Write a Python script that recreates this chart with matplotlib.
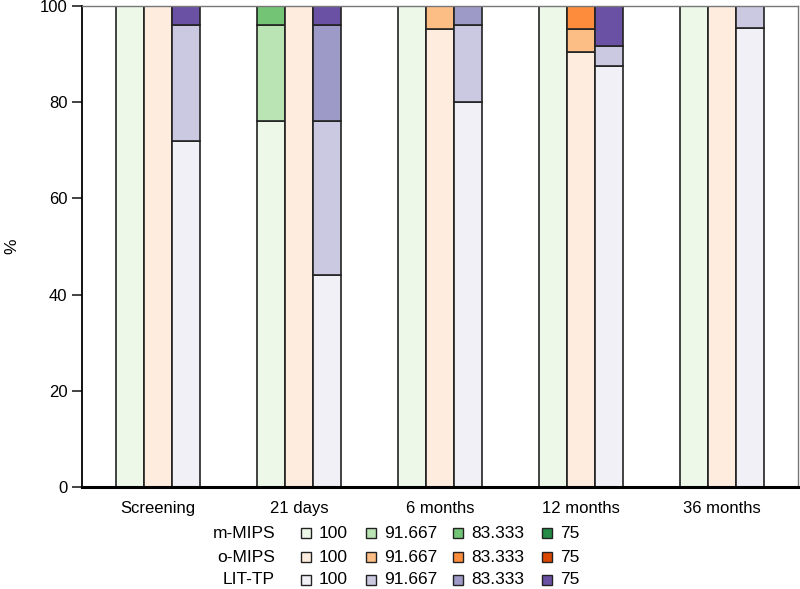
import numpy as np
import matplotlib.pyplot as plt
from matplotlib.patches import Rectangle

plt.rcParams["font.family"] = ["Liberation Sans", "DejaVu Sans"]

# === Datos ===
timepoints = ["Screening", "21 days", "6 months", "12 months", "36 months"]
levels = ["100", "91.667", "83.333", "75"]
measures = ["m-MIPS", "o-MIPS", "LIT-TP"]

# porcentaje de cada nivel (100, 91.667, 83.333, 75) por momento
m_mips = [
    [100, 0, 0, 0],
    [76, 20, 4, 0],
    [100, 0, 0, 0],
    [100, 0, 0, 0],
    [100, 0, 0, 0],
]
o_mips = [
    [100, 0, 0, 0],
    [100, 0, 0, 0],
    [95.24, 4.76, 0, 0],
    [90.48, 4.76, 4.76, 0],
    [100, 0, 0, 0],
]
lit_tp = [
    [72, 24, 0, 4],
    [44, 32, 20, 4],
    [80, 16, 4, 0],
    [87.5, 4.17, 0, 8.33],
    [95.45, 4.55, 0, 0],
]

colors = {
    "m-MIPS": ["#edf8e9", "#bae4b3", "#74c476", "#238b45"],
    "o-MIPS": ["#feedde", "#fdbe85", "#fd8d3c", "#d94701"],
    "LIT-TP": ["#f2f0f7", "#cbc9e2", "#9e9ac8", "#6a51a3"],
}
series = {"m-MIPS": m_mips, "o-MIPS": o_mips, "LIT-TP": lit_tp}

# === Grafico ===
fig = plt.figure(figsize=(8, 5.89), dpi=100)
ax = fig.add_axes([0.1025, 0.173, 0.895, 0.817])

width = 0.2
x = np.arange(len(timepoints))
for j, name in enumerate(measures):
    vals = np.array(series[name], dtype=float)
    bottom = np.zeros(len(timepoints))
    for k in range(len(levels)):
        h = vals[:, k]
        mask = h > 0
        ax.bar(x[mask] + (j - 1) * width, h[mask], width, bottom=bottom[mask],
               color=colors[name][k], edgecolor="#222222", linewidth=1.2)
        bottom += h

ax.set_xlim(-0.54, 4.54)
ax.set_ylim(0, 100)
ax.set_xticks(x)
ax.set_xticklabels(timepoints, fontsize=12)
ax.set_yticks([0, 20, 40, 60, 80, 100])
ax.tick_params(axis="y", labelsize=12, length=7, width=1.2, color="#222222")
ax.tick_params(axis="x", length=0, pad=10)
ax.set_ylabel("%", fontsize=12.5)
ax.yaxis.set_label_coords(-0.088, 0.5)

for s in ["top", "right"]:
    ax.spines[s].set_color("#777777")
    ax.spines[s].set_linewidth(1.0)
ax.spines["left"].set_linewidth(1.3)
ax.spines["bottom"].set_linewidth(2.2)

# === Leyenda manual ===
W, H = 800, 589
row_y = [533, 557, 580]
patch_x = [306, 371, 458, 547]
ps = 10
for i, name in enumerate(measures):
    yy = 1 - row_y[i] / H
    fig.text(275 / W, yy, name, ha="right", va="center", fontsize=12.5)
    for k, lab in enumerate(levels):
        px = patch_x[k]
        fig.patches.append(Rectangle(((px - ps / 2) / W, (H - row_y[i] - ps / 2) / H),
                                     ps / W, ps / H, transform=fig.transFigure,
                                     facecolor=colors[name][k], edgecolor="#222222",
                                     linewidth=1.0))
        fig.text((px + ps / 2 + 8) / W, yy, lab, ha="left", va="center", fontsize=12.5)

plt.savefig("out.png", dpi=100)
plt.close()
